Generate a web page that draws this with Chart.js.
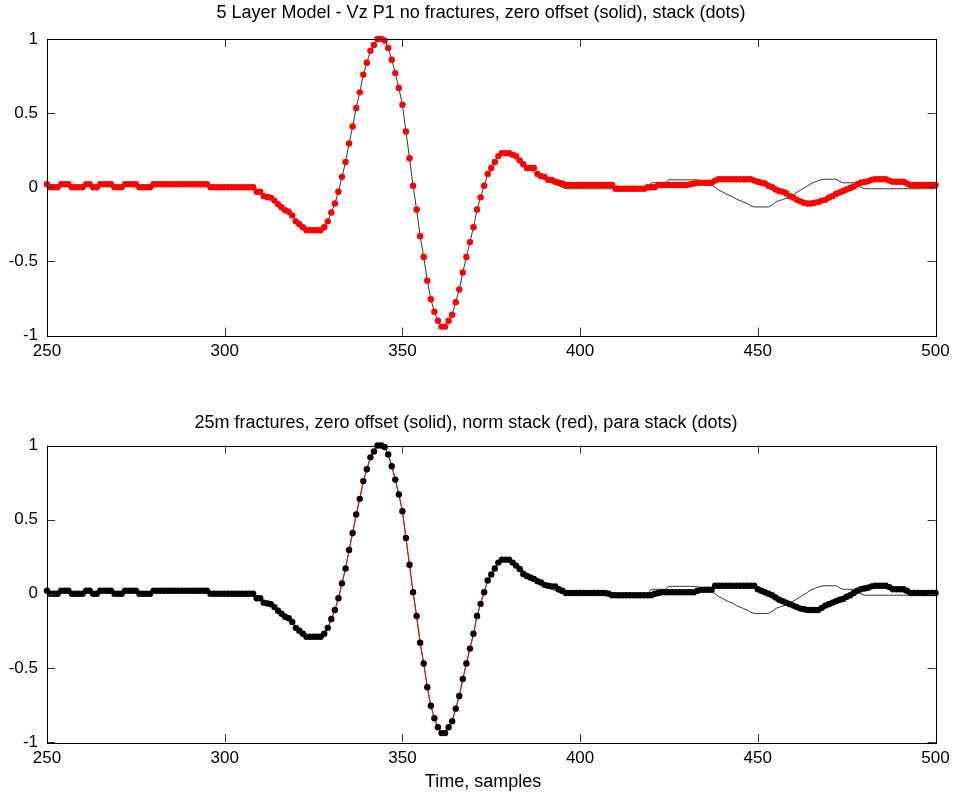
<!DOCTYPE html>
<html>
<head>
<meta charset="utf-8">
<title>5 Layer Model - Vz P1</title>
<script src="https://cdn.jsdelivr.net/npm/chart.js"></script>
<style>
  body { margin: 0; background: #fff; }
  canvas { position: absolute; left: 0; }
</style>
</head>
<body>
<canvas id="topChart" width="956" height="400" style="top:0"></canvas>
<canvas id="bottomChart" width="956" height="396" style="top:400px"></canvas>
<script>
// x axis: time in samples, one value per sample from 250 to 500
const firstSample = 250;
const xTicks = [250, 300, 350, 400, 450, 500];
const yTicks = [-1, -0.5, 0, 0.5, 1];

const topTitle = '5 Layer Model - Vz P1 no fractures, zero offset (solid), stack (dots)';
const bottomTitle = '25m fractures, zero offset (solid), norm stack (red), para stack (dots)';
const xLabel = 'Time, samples';

// samples 250..379 read the same on every trace (main wavelet)
const headValues = [
  0.02, 0, 0, 0, 0.02, 0.02, 0.02, 0, 0, 0,                        // 250
  0, 0.02, 0.02, 0, 0, 0.02, 0.02, 0.02, 0.02, 0,                  // 260
  0, 0, 0.02, 0.02, 0.02, 0.02, 0, 0, 0, 0,                        // 270
  0.02, 0.02, 0.02, 0.02, 0.02, 0.02, 0.02, 0.02, 0.02, 0.02,      // 280
  0.02, 0.02, 0.02, 0.02, 0.02, 0.02, 0, 0, 0, 0,                  // 290
  0, 0, 0, 0, 0, 0, 0, 0, 0, -0.03,                                // 300
  -0.03, -0.06, -0.065, -0.07, -0.09, -0.115, -0.135, -0.155, -0.165, -0.19, // 310
  -0.23, -0.25, -0.27, -0.29, -0.29, -0.29, -0.29, -0.29, -0.27, -0.23,      // 320
  -0.17, -0.11, -0.03, 0.07, 0.17, 0.295, 0.41, 0.535, 0.64, 0.76,           // 330
  0.84, 0.92, 0.96, 1, 1, 0.99, 0.94, 0.86, 0.77, 0.67,                      // 340
  0.556, 0.376, 0.196, 0.01, -0.15, -0.33, -0.47, -0.63, -0.755, -0.84,      // 350
  -0.9, -0.94, -0.94, -0.9, -0.86, -0.775, -0.69, -0.575, -0.47, -0.37,      // 360
  -0.27, -0.15, -0.068, 0.01, 0.09, 0.13, 0.17, 0.21, 0.23, 0.23             // 370
];

// samples 380..500, zero offset trace (solid black)
const zeroOffsetTail = [
  0.23, 0.22, 0.2, 0.18, 0.16, 0.14, 0.12, 0.1, 0.085, 0.07,                  // 380
  0.055, 0.04, 0.03, 0.02, 0.01, 0, -0.01, -0.01, -0.01, -0.01,               // 390
  -0.01, -0.01, -0.01, -0.01, -0.01, -0.01, -0.01, -0.01, -0.01, -0.01,       // 400
  -0.01, -0.01, -0.01, -0.01, -0.01, -0.01, -0.01, -0.01, -0.01, -0.01,       // 410
  0.03, 0.03, 0.03, 0.03, 0.03, 0.05, 0.05, 0.05, 0.05, 0.05,                 // 420
  0.05, 0.05, 0.05, 0.05, 0.03, 0.015, 0.015, 0.015, 0, -0.02,                // 430
  -0.03, -0.045, -0.055, -0.065, -0.08, -0.09, -0.1, -0.11, -0.125, -0.133,   // 440
  -0.133, -0.133, -0.133, -0.133, -0.12, -0.1, -0.09, -0.083, -0.075, -0.065, // 450
  -0.05, -0.035, -0.02, -0.005, 0.01, 0.025, 0.035, 0.045, 0.052, 0.054,      // 460
  0.054, 0.054, 0.054, 0.04, 0.03, 0.03, 0.03, 0.03, 0.01, 0,                 // 470
  -0.01, -0.01, -0.01, -0.01, -0.01, -0.01, -0.01, -0.01, -0.01, -0.01,       // 480
  -0.01, -0.01, -0.01, -0.01, -0.01, -0.01, -0.01, -0.01, -0.01, -0.01,       // 490
  -0.01                                                                       // 500
];

// samples 380..500, stack without fractures (red dots, top)
const stackTail = [
  0.23, 0.22, 0.21, 0.18, 0.155, 0.13, 0.13, 0.13, 0.09, 0.075,
  0.07, 0.05, 0.05, 0.037, 0.03, 0.025, 0.015, 0.015, 0.015, 0.015,
  0.015, 0.015, 0.015, 0.015, 0.015, 0.015, 0.015, 0.015, 0.015, 0.015,
  -0.01, -0.01, -0.01, -0.01, -0.01, -0.01, -0.01, -0.01, -0.01, 0,
  0, 0, 0.015, 0.015, 0.015, 0.015, 0.015, 0.015, 0.015, 0.015,
  0.015, 0.02, 0.025, 0.03, 0.03, 0.03, 0.03, 0.03, 0.045, 0.054,
  0.054, 0.054, 0.054, 0.054, 0.054, 0.054, 0.054, 0.054, 0.054, 0.045,
  0.037, 0.03, 0.025, 0.01, 0, -0.015, -0.025, -0.03, -0.04, -0.06,
  -0.07, -0.085, -0.095, -0.105, -0.11, -0.11, -0.105, -0.1, -0.09, -0.085,
  -0.07, -0.06, -0.045, -0.035, -0.025, -0.015, -0.005, 0.005, 0.02, 0.03,
  0.035, 0.04, 0.05, 0.054, 0.054, 0.054, 0.054, 0.045, 0.037, 0.037,
  0.037, 0.037, 0.025, 0.015, 0.015, 0.015, 0.015, 0.015, 0.015, 0.015,
  0.015
];

// samples 380..500, normal stack with fractures (red line, bottom)
const normStackTail = [
  0.21, 0.2, 0.19, 0.165, 0.14, 0.12, 0.11, 0.1, 0.08, 0.065,
  0.055, 0.045, 0.04, 0.03, 0.02, 0.01, 0, 0, 0, 0,
  0, 0, 0, 0, 0, 0, 0, 0, 0, 0,
  -0.01, -0.01, -0.01, -0.01, -0.01, -0.01, -0.01, -0.01, -0.01, -0.01,
  0, 0, 0, 0, 0, 0, 0, 0, 0, 0,
  0, 0.01, 0.02, 0.025, 0.025, 0.025, 0.03, 0.035, 0.045, 0.05,
  0.05, 0.05, 0.05, 0.05, 0.05, 0.05, 0.05, 0.05, 0.05, 0.05,
  0.035, 0.025, 0.01, 0, -0.01, -0.025, -0.035, -0.045, -0.055, -0.065,
  -0.08, -0.09, -0.1, -0.105, -0.11, -0.115, -0.115, -0.11, -0.105, -0.095,
  -0.085, -0.07, -0.055, -0.04, -0.03, -0.02, -0.005, 0.01, 0.02, 0.03,
  0.035, 0.04, 0.04, 0.04, 0.04, 0.04, 0.04, 0.04, 0.035, 0.03,
  0.02, 0.01, 0, -0.01, -0.01, -0.01, -0.01, -0.01, -0.01, -0.01,
  -0.01
];

// samples 380..500, parallel stack with fractures (black dots, bottom)
const paraStackTail = [
  0.23, 0.21, 0.19, 0.167, 0.133, 0.12, 0.11, 0.1, 0.085, 0.076,
  0.06, 0.054, 0.05, 0.05, 0.03, 0.02, 0.005, 0.005, 0.005, 0.005,
  0.005, 0.005, 0.005, 0.005, 0.005, 0.005, 0.005, 0.005, 0, -0.01,
  -0.01, -0.01, -0.01, -0.01, -0.01, -0.01, -0.01, -0.01, -0.01, -0.01,
  -0.01, 0, 0.005, 0.01, 0.01, 0.01, 0.01, 0.01, 0.01, 0.01,
  0.01, 0.01, 0.01, 0.02, 0.027, 0.027, 0.027, 0.027, 0.054, 0.054,
  0.054, 0.054, 0.054, 0.054, 0.054, 0.054, 0.054, 0.054, 0.054, 0.054,
  0.03, 0.02, 0.01, 0, -0.01, -0.025, -0.04, -0.05, -0.06, -0.07,
  -0.08, -0.09, -0.1, -0.105, -0.11, -0.11, -0.11, -0.11, -0.095, -0.08,
  -0.07, -0.06, -0.05, -0.04, -0.035, -0.02, -0.01, 0.005, 0.02, 0.03,
  0.035, 0.04, 0.05, 0.054, 0.054, 0.054, 0.054, 0.045, 0.03, 0.03,
  0.03, 0.03, 0.02, 0.005, 0.005, 0.005, 0.005, 0.005, 0.005, 0.005,
  0.005
];

const zeroOffsetNoFrac = headValues.concat(zeroOffsetTail);
const stackNoFrac = headValues.concat(stackTail);
const zeroOffsetFrac = headValues.concat(zeroOffsetTail); // reads identical to the no-fracture trace
const normStack = headValues.concat(normStackTail);
const paraStack = headValues.concat(paraStackTail);

const fontFamily = '"Liberation Sans", Arial, Helvetica, sans-serif';
Chart.defaults.font.family = fontFamily;
Chart.defaults.color = '#000';

function toPoints(vals) {
  return vals.map((v, i) => ({x: firstSample + i, y: v}));
}

// box round the axes with inward ticks, like the original plot
const framePlugin = {
  id: 'frame',
  afterDatasetsDraw(chart) {
    const {ctx, chartArea: a, scales} = chart;
    ctx.save();
    ctx.lineWidth = 1;
    ctx.strokeStyle = '#333';
    ctx.beginPath();
    xTicks.forEach(v => {
      const px = Math.round(scales.x.getPixelForValue(v)) + 0.5;
      ctx.moveTo(px, a.bottom); ctx.lineTo(px, a.bottom - 8);
      ctx.moveTo(px, a.top); ctx.lineTo(px, a.top + 8);
    });
    yTicks.forEach(v => {
      const py = Math.round(scales.y.getPixelForValue(v)) + 0.5;
      ctx.moveTo(a.left, py); ctx.lineTo(a.left + 8, py);
      ctx.moveTo(a.right, py); ctx.lineTo(a.right - 8, py);
    });
    ctx.stroke();
    ctx.strokeStyle = '#000';
    ctx.strokeRect(Math.round(a.left) + 0.5, Math.round(a.top) + 0.5,
      Math.round(a.right - a.left), Math.round(a.bottom - a.top));
    ctx.restore();
  }
};

function makePanel(id, datasets, texts, areaTop, axisHeight) {
  const textPlugin = {
    id: 'panelText',
    afterDraw(chart) {
      const ctx = chart.ctx;
      ctx.save();
      ctx.fillStyle = '#000';
      ctx.textAlign = 'center';
      ctx.textBaseline = 'middle';
      texts.forEach(t => {
        ctx.font = t.size + 'px ' + fontFamily;
        ctx.fillText(t.text, t.x, t.y);
      });
      ctx.restore();
    }
  };
  return new Chart(document.getElementById(id), {
    type: 'scatter',
    data: {datasets: datasets},
    options: {
      responsive: false,
      animation: false,
      events: [],
      layout: {padding: {left: 0, right: 20.5, top: areaTop, bottom: 0}},
      plugins: {legend: {display: false}, tooltip: {enabled: false}},
      scales: {
        x: {
          type: 'linear', min: 250, max: 500,
          grid: {display: false, drawTicks: false},
          border: {display: false},
          ticks: {padding: 6, font: {size: 17}, maxRotation: 0, autoSkip: false, callback: v => String(v)},
          afterBuildTicks: s => { s.ticks = xTicks.map(v => ({value: v})); },
          afterFit: s => { s.height = axisHeight; }
        },
        y: {
          type: 'linear', min: -1, max: 1,
          grid: {display: false, drawTicks: false},
          border: {display: false},
          ticks: {padding: 9, font: {size: 17}, autoSkip: false, callback: v => String(v)},
          afterBuildTicks: s => { s.ticks = yTicks.map(v => ({value: v})); },
          afterFit: s => { s.width = 47; }
        }
      }
    },
    plugins: [framePlugin, textPlugin]
  });
}

makePanel('topChart', [
  {data: toPoints(stackNoFrac), showLine: false, pointRadius: 3.2, pointBackgroundColor: '#ff0000',
   pointBorderWidth: 0, order: 0, clip: 6},
  {data: toPoints(zeroOffsetNoFrac), showLine: true, pointRadius: 0, borderColor: '#000',
   borderWidth: 0.8, order: 1, clip: 6}
], [{text: topTitle, x: 481, y: 13, size: 18}], 39, 64.5);

makePanel('bottomChart', [
  {data: toPoints(paraStack), showLine: false, pointRadius: 3.2, pointBackgroundColor: '#000',
   pointBorderWidth: 0, order: 0, clip: 6},
  {data: toPoints(normStack), showLine: true, pointRadius: 0, borderColor: '#ff0000',
   borderWidth: 0.9, order: 1, clip: 6},
  {data: toPoints(zeroOffsetFrac), showLine: true, pointRadius: 0, borderColor: '#000',
   borderWidth: 0.8, order: 2, clip: 6}
], [{text: bottomTitle, x: 466, y: 23, size: 18}, {text: xLabel, x: 483, y: 382, size: 18}], 45.5, 54);
</script>
</body>
</html>
